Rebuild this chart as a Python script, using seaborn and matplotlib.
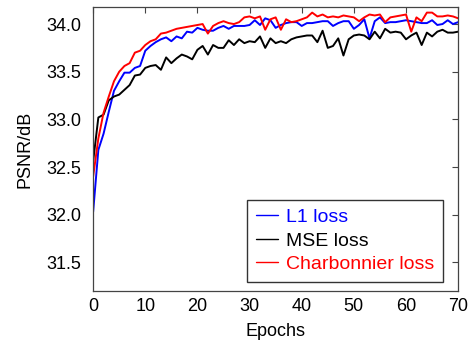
import numpy as np
import pandas as pd
import matplotlib
matplotlib.use("Agg")
import matplotlib.pyplot as plt
import seaborn as sns

# PSNR per epoch
epochs = list(range(71))

l1_psnr = [32.03, 32.68, 32.85, 33.08, 33.30, 33.40, 33.49, 33.49, 33.54, 33.56,
           33.72, 33.77, 33.81, 33.84, 33.86, 33.82, 33.87, 33.85, 33.92, 33.91,
           33.96, 33.94, 33.93, 33.93, 33.96, 33.98, 33.95, 33.98, 33.98, 33.98,
           33.99, 34.04, 33.99, 34.06, 34.04, 33.96, 33.99, 34.01, 34.02, 34.02,
           33.98, 34.01, 34.01, 34.02, 34.03, 34.03, 33.98, 34.01, 34.03, 34.03,
           33.95, 33.99, 34.05, 33.85, 34.03, 34.07, 34.01, 34.02, 34.02, 34.03,
           34.04, 34.03, 34.02, 34.01, 34.01, 34.04, 33.99, 34.00, 34.04, 34.00,
           34.02]

mse_psnr = [32.56, 33.02, 33.05, 33.20, 33.24, 33.26, 33.31, 33.36, 33.46, 33.47,
            33.54, 33.56, 33.57, 33.52, 33.65, 33.59, 33.64, 33.68, 33.66, 33.63,
            33.73, 33.77, 33.68, 33.78, 33.75, 33.75, 33.83, 33.78, 33.84, 33.80,
            33.82, 33.81, 33.87, 33.75, 33.85, 33.80, 33.82, 33.80, 33.84, 33.86,
            33.87, 33.88, 33.88, 33.81, 33.93, 33.75, 33.77, 33.85, 33.67, 33.84,
            33.88, 33.89, 33.88, 33.84, 33.92, 33.85, 33.95, 33.91, 33.92, 33.91,
            33.84, 33.88, 33.91, 33.78, 33.91, 33.87, 33.92, 33.94, 33.91, 33.91,
            33.92]

charb_psnr = [32.40, 32.80, 33.07, 33.24, 33.40, 33.50, 33.56, 33.59, 33.70, 33.72,
              33.78, 33.82, 33.84, 33.90, 33.91, 33.93, 33.95, 33.96, 33.97, 33.98,
              33.99, 34.00, 33.90, 33.98, 34.01, 34.03, 34.01, 34.00, 34.02, 34.07,
              34.08, 34.06, 34.08, 33.94, 34.05, 34.07, 33.94, 34.05, 34.02, 34.03,
              34.05, 34.07, 34.12, 34.08, 34.10, 34.07, 34.08, 34.07, 34.09, 34.08,
              34.07, 34.03, 34.07, 34.10, 34.09, 34.10, 34.02, 34.07, 34.08, 34.09,
              34.10, 33.92, 34.07, 34.03, 34.12, 34.12, 34.08, 34.08, 34.09, 34.08,
              34.06]

loss_names = ["L1 loss", "MSE loss", "Charbonnier loss"]
loss_colors = ["#0000ff", "#000000", "#ff0000"]

df = pd.DataFrame({
    "Epochs": epochs * 3,
    "PSNR": l1_psnr + mse_psnr + charb_psnr,
    "loss": [n for n in loss_names for _ in epochs],
})

sns.set_style("white")
plt.rcParams["font.family"] = ["Liberation Sans", "DejaVu Sans"]
plt.rcParams["text.color"] = "black"
plt.rcParams["axes.labelcolor"] = "black"
plt.rcParams["xtick.color"] = "black"
plt.rcParams["ytick.color"] = "black"

fig = plt.figure(figsize=(4.68, 3.44), dpi=100)
ax = fig.add_axes([0.199, 0.154, 0.780, 0.826])

sns.lineplot(data=df, x="Epochs", y="PSNR", hue="loss", hue_order=loss_names,
             palette=loss_colors, linewidth=1.4, ax=ax)

ax.set_xlim(0, 70)
ax.set_ylim(31.2, 34.18)
ax.set_xticks([0, 10, 20, 30, 40, 50, 60, 70])
ax.set_yticks([31.5, 32.0, 32.5, 33.0, 33.5, 34.0])
ax.set_yticklabels(["31.5", "32.0", "32.5", "33.0", "33.5", "34.0"])
ax.set_xlabel("Epochs", fontsize=13, labelpad=6)
ax.set_ylabel("PSNR/dB", fontsize=13, labelpad=9)
ax.tick_params(direction="in", length=4, width=0.8, labelsize=13,
               top=True, right=True, color="#444444", labelcolor="black")
ax.tick_params(axis="y", pad=8.5)
ax.tick_params(axis="x", pad=5)
for s in ax.spines.values():
    s.set_color("#444444")
    s.set_linewidth(0.9)

leg = ax.legend(loc="lower right", bbox_to_anchor=(0.959, 0.032), borderaxespad=0,
                fontsize=14, frameon=True, fancybox=False, edgecolor="black",
                handlelength=1.15, handletextpad=0.4, borderpad=0.45,
                labelspacing=0.3)
leg.get_frame().set_linewidth(1.0)
for line, txt, c in zip(leg.get_lines(), leg.get_texts(), loss_colors):
    line.set_linewidth(1.0)
    txt.set_color(c)

fig.savefig("out.png", dpi=100)
